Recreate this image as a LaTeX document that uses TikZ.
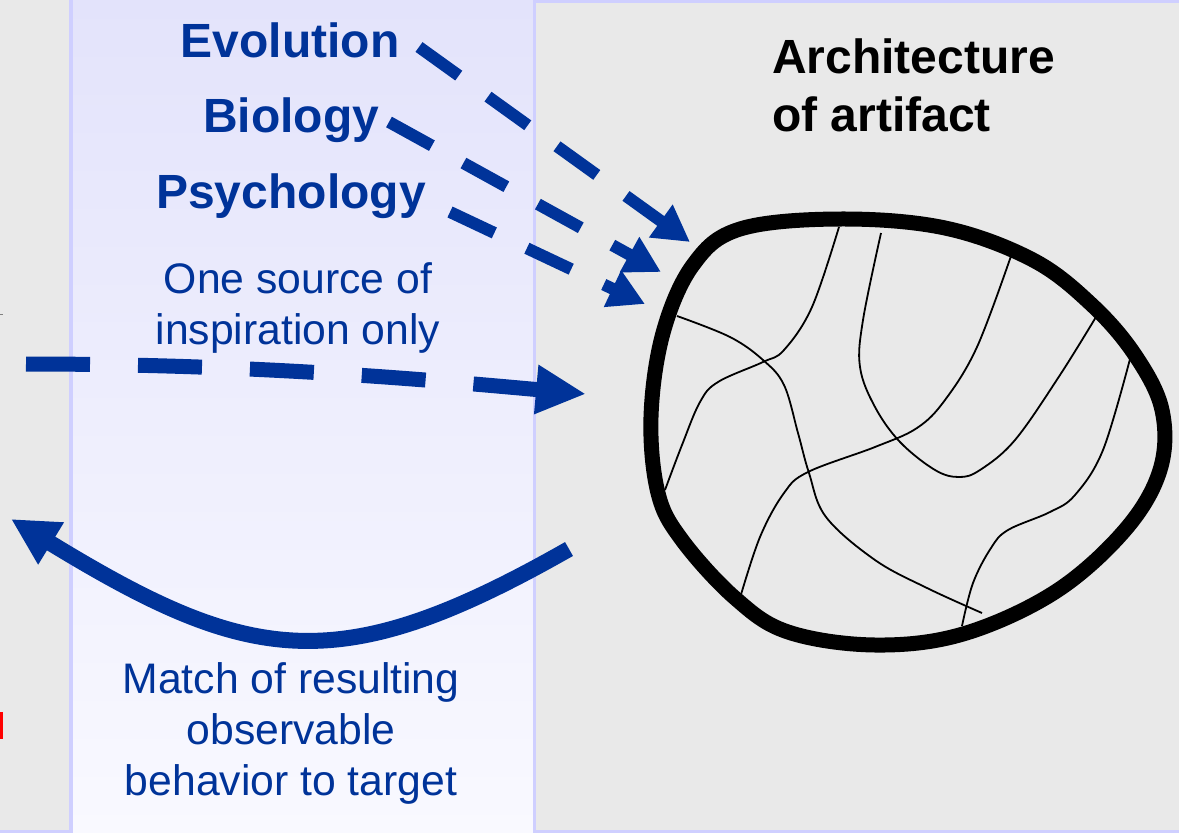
\documentclass[tikz,border=0pt]{standalone}
\usepackage{fontspec}
\setmainfont{Liberation Sans}
\usetikzlibrary{arrows.meta}
\definecolor{navy}{HTML}{003399}
\definecolor{panelgray}{HTML}{E9E9E9}
\definecolor{lavtop}{HTML}{E3E3FB}
\definecolor{lavbot}{HTML}{F9F9FF}
\definecolor{lavedge}{HTML}{CFCFFF}
\begin{document}
\begin{tikzpicture}[x=1pt,y=-1pt,
  panel/.style={draw=lavedge, line width=3pt},
  topic/.style={text=navy, font=\fontsize{48}{56}\selectfont\bfseries, anchor=base, inner sep=0pt},
  heading/.style={text=black, font=\fontsize{48}{58}\selectfont\bfseries, anchor=base west, inner sep=0pt, align=left},
  note/.style={text=navy, font=\fontsize{42.7}{51}\selectfont, align=center, anchor=base, inner sep=0pt},
  influence/.style={draw=navy, line width=12pt, dash pattern=on 49pt off 36pt,
    -{Triangle[length=36pt,width=38pt]}},
  inspire/.style={draw=navy, line width=15pt, dash pattern=on 64pt off 48pt,
    -{Triangle[length=50pt,width=46pt]}},
  feedback/.style={draw=navy, line width=16pt, -{Triangle[length=47pt,width=46pt]}},
  wire/.style={draw=black, line width=1.8pt},
]
\useasboundingbox (0,0) rectangle (1179,833);

% background panels
\fill[panelgray] (0,0) rectangle (1179,833);
\draw[panel, fill=panelgray] (-5,-5) rectangle (70,831.5);
\shade[top color=lavtop, bottom color=lavbot] (71.5,0) rectangle (533,833);
\draw[draw=lavedge, line width=3pt] (71.5,0) -- (71.5,833);
\draw[panel, fill=panelgray] (534.5,1.5) rectangle (1185,831.5);

% clipped fragments at the left border
\fill[red] (0,712) rectangle (3,739);
\draw[gray, line width=1pt] (0,314) -- (3,314);

% labels (multi-line nodes are anchored at the baseline of their last line)
\node[topic] (evo) at (290,57) {Evolution};
\node[topic] (bio) at (291,132) {Biology};
\node[topic] (psy) at (291,208) {Psychology};
\node[note] (src) at (298,344) {One source of\\inspiration only};
\node[note] (match) at (291,795) {Match of resulting\\observable\\behavior to target};
\node[heading] (arch) at (772,131) {Architecture\\of artifact};

% artifact outline
\draw[line width=15pt, line join=round] plot[smooth cycle, tension=0.6] coordinates {
  (840,219) (945,228) (1033,260) (1092,305) (1135,355) (1162,410)
  (1160,470) (1125,530) (1055,592) (963,634) (875,645) (788,632)
  (735,598) (682,540) (658,493) (651,417) (663,333) (693,265) (740,229)};

% internal structure
\draw[wire] plot[smooth, tension=0.6] coordinates {
  (677,316) (730,337) (763,360) (784,385) (798,433) (809,473) (826,517) (875,560) (927,588) (982,613)};
\draw[wire] plot[smooth, tension=0.6] coordinates {
  (839,227) (812,307) (784,350) (763,362) (718,382) (700,402) (682,445) (665,490)};
\draw[wire] plot[smooth, tension=0.6] coordinates {
  (881,233) (863,320) (860,367) (875,407) (900,442) (935,470) (959,477) (980,470) (1015,440) (1060,375) (1099,312)};
\draw[wire] plot[smooth, tension=0.6] coordinates {
  (1011,256) (977,347) (945,400) (917,428) (875,447) (808,472) (784,493) (760,537) (740,598)};
\draw[wire] plot[smooth, tension=0.6] coordinates {
  (1130,359) (1103,450) (1075,495) (1050,512) (1008,530) (991,548) (973,583) (962,626)};

% influence arrows
\coordinate (evoS) at (419,47);
\coordinate (evoT) at (690,242);
\coordinate (bioS) at (389,122);
\coordinate (bioT) at (661,272);
\coordinate (psyS) at (450,212);
\coordinate (psyT) at (645,304);
\draw[influence] (evoS) -- (evoT);
\draw[influence] (bioS) -- (bioT);
\draw[influence] (psyS) -- (psyT);

% inspiration arrow
\coordinate (insS) at (26,364);
\coordinate (insT) at (586,394);
\draw[inspire] (insS) .. controls (250,364) and (420,379) .. (insT);

% feedback arrow
\coordinate (fbS) at (569,549);
\coordinate (fbT) at (11,519);
\draw[feedback] (fbS) .. controls (339,680) and (250,665) .. (fbT);
\end{tikzpicture}
\end{document}
